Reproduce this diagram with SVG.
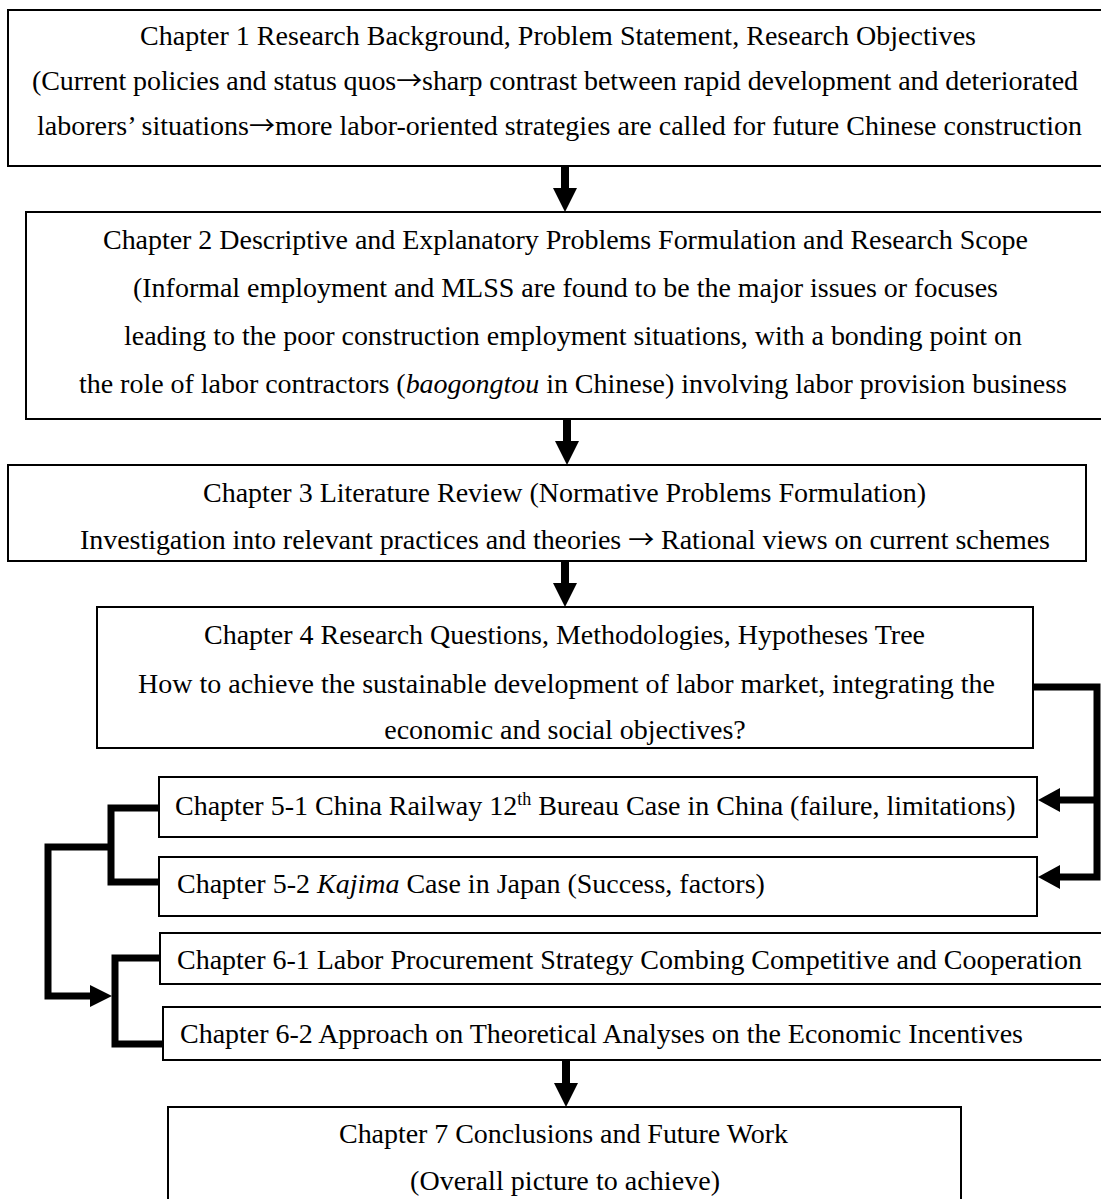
<svg xmlns="http://www.w3.org/2000/svg" width="1101" height="1199" viewBox="0 0 1101 1199">
  <defs>
    <style>
      .box { fill: #ffffff; stroke: #000000; stroke-width: 2; }
      .t { font-family: "Liberation Serif", "Times New Roman", serif; font-size: 28px; fill: #000000; }
      .m { text-anchor: middle; }
      .arr { font-family: "Noto Sans CJK SC", "DejaVu Sans", sans-serif; font-size: 26px; }
      .link { fill: none; stroke: #000000; stroke-width: 7; stroke-linejoin: miter; }
      .head { fill: #000000; stroke: none; }
    </style>
  </defs>
  <rect width="1101" height="1199" fill="#ffffff"/>

  <!-- Chapter 1 -->
  <g id="ch1">
    <rect class="box" x="8" y="10" width="1100" height="156"/>
    <text class="t" x="140" y="45" textLength="836" lengthAdjust="spacing">Chapter 1 Research Background, Problem Statement, Research Objectives</text>
    <text class="t" x="32" y="90" textLength="1046" lengthAdjust="spacing">(Current policies and status quos<tspan class="arr">→</tspan>sharp contrast between rapid development and deteriorated</text>
    <text class="t" x="37" y="135" textLength="1045" lengthAdjust="spacing">laborers’ situations<tspan class="arr">→</tspan>more labor-oriented strategies are called for future Chinese construction</text>
  </g>

  <!-- Chapter 2 -->
  <g id="ch2">
    <rect class="box" x="26" y="212" width="1082" height="207"/>
    <text class="t" x="103" y="249" textLength="925" lengthAdjust="spacing">Chapter 2 Descriptive and Explanatory Problems Formulation and Research Scope</text>
    <text class="t" x="133" y="297" textLength="865" lengthAdjust="spacing">(Informal employment and MLSS are found to be the major issues or focuses</text>
    <text class="t" x="124" y="345" textLength="898" lengthAdjust="spacing">leading to the poor construction employment situations, with a bonding point on</text>
    <text class="t" x="79" y="393" textLength="988" lengthAdjust="spacing">the role of labor contractors (<tspan font-style="italic">baogongtou</tspan> in Chinese) involving labor provision business</text>
  </g>

  <!-- Chapter 3 -->
  <g id="ch3">
    <rect class="box" x="8" y="465" width="1078" height="96"/>
    <text class="t" x="203" y="502">Chapter 3 Literature Review (Normative Problems Formulation)</text>
    <text class="t" x="80" y="549" textLength="970" lengthAdjust="spacing">Investigation into relevant practices and theories <tspan class="arr">→</tspan> Rational views on current schemes</text>
  </g>

  <!-- Chapter 4 -->
  <g id="ch4">
    <rect class="box" x="97" y="607" width="936" height="141"/>
    <text class="t" x="204" y="644" textLength="721" lengthAdjust="spacing">Chapter 4 Research Questions, Methodologies, Hypotheses Tree</text>
    <text class="t" x="138" y="693" textLength="857" lengthAdjust="spacing">How to achieve the sustainable development of labor market, integrating the</text>
    <text class="t m" x="565" y="739">economic and social objectives?</text>
  </g>

  <!-- Chapter 5-1 -->
  <g id="ch5-1">
    <rect class="box" x="159" y="777" width="878" height="60"/>
    <text class="t" x="175" y="815">Chapter 5-1 China Railway 12<tspan font-size="18" dy="-10">th</tspan><tspan dy="10"> Bureau Case in China (failure, limitations)</tspan></text>
  </g>

  <!-- Chapter 5-2 -->
  <g id="ch5-2">
    <rect class="box" x="159" y="857" width="878" height="59"/>
    <text class="t" x="177" y="893">Chapter 5-2 <tspan font-style="italic">Kajima</tspan> Case in Japan (Success, factors)</text>
  </g>

  <!-- Chapter 6-1 -->
  <g id="ch6-1">
    <rect class="box" x="160" y="933" width="948" height="51"/>
    <text class="t" x="177" y="969" textLength="905" lengthAdjust="spacing">Chapter 6-1 Labor Procurement Strategy Combing Competitive and Cooperation</text>
  </g>

  <!-- Chapter 6-2 -->
  <g id="ch6-2">
    <rect class="box" x="163" y="1007" width="945" height="53"/>
    <text class="t" x="180" y="1043" textLength="843" lengthAdjust="spacing">Chapter 6-2 Approach on Theoretical Analyses on the Economic Incentives</text>
  </g>

  <!-- Chapter 7 -->
  <g id="ch7">
    <rect class="box" x="168" y="1107" width="793" height="100"/>
    <text class="t" x="339" y="1143" textLength="449" lengthAdjust="spacing">Chapter 7 Conclusions and Future Work</text>
    <text class="t" x="410" y="1190" textLength="310" lengthAdjust="spacing">(Overall picture to achieve)</text>
  </g>

  <!-- connectors -->
  <g id="connectors">
    <!-- straight downward arrows between stacked chapters -->
    <rect class="head" x="561" y="166" width="8" height="23"/>
    <polygon class="head" points="553,188 577,188 565,212"/>
    <rect class="head" x="563" y="419" width="8" height="23"/>
    <polygon class="head" points="555,441 579,441 567,465"/>
    <rect class="head" x="561" y="561" width="8" height="23"/>
    <polygon class="head" points="553,583 577,583 565,607"/>
    <rect class="head" x="562" y="1060" width="8" height="24"/>
    <polygon class="head" points="554,1083 578,1083 566,1107"/>

    <!-- chapter 4 fanning out to the two case studies -->
    <path class="link" d="M1033 687 H1097 V877 H1058"/>
    <path class="link" d="M1097 800 H1058"/>
    <polygon class="head" points="1038,800 1060,788 1060,812"/>
    <polygon class="head" points="1038,877 1060,865 1060,889"/>

    <!-- case studies gathered and fed into chapter 6 -->
    <path class="link" d="M159 808 H111 V882 H159"/>
    <path class="link" d="M111 847 H48 V996 H92"/>
    <polygon class="head" points="112,996 90,985 90,1007"/>
    <path class="link" d="M160 958 H115 V1044 H163"/>
  </g>
</svg>
